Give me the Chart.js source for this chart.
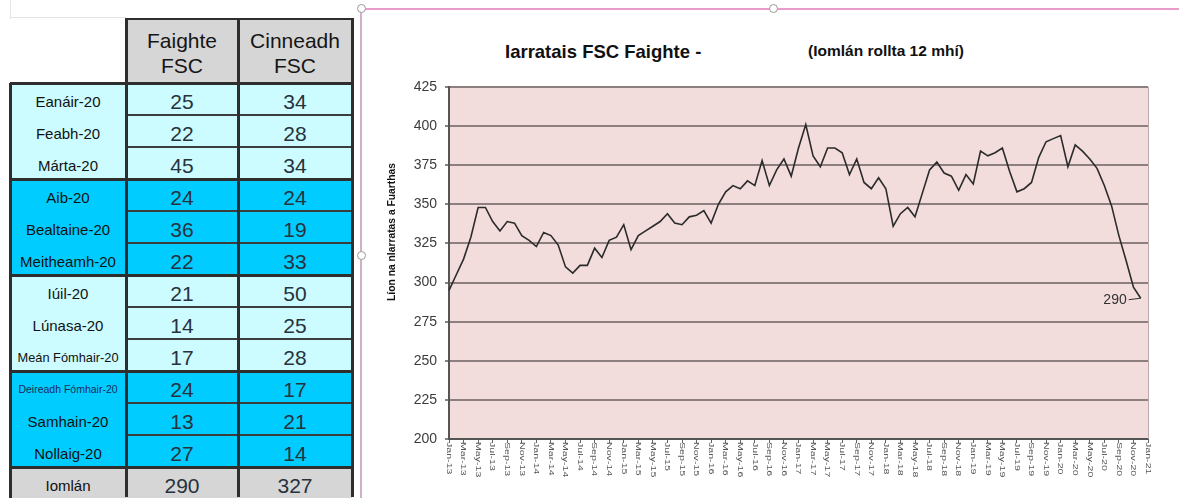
<!DOCTYPE html>
<html>
<head>
<meta charset="utf-8">
<script src="https://cdn.jsdelivr.net/npm/chart.js@4.4.1/dist/chart.umd.min.js"></script>
<style>
  body { margin: 0; width: 1179px; height: 498px; overflow: hidden; background: #fff; font-family: 'Liberation Sans', Arial, sans-serif; position: relative; }
  .abs { position: absolute; }
  .txt { position: absolute; display: flex; align-items: center; justify-content: center; white-space: nowrap; }
  #chartBox { position: absolute; left: 363px; top: 10px; width: 816px; height: 488px; }
  .handle { position: absolute; width: 7px; height: 7px; border-radius: 50%; background: #fff; border: 1px solid #9a9a9a; }
</style>
</head>
<body>
<div id="table"></div>

<!-- chart frame -->
<div class="abs" style="left:362px;top:8px;width:817px;height:2px;background:#e99cc9;"></div>
<div class="abs" style="left:360px;top:8px;width:2px;height:490px;background:#cfb0c6;"></div>
<div class="handle" style="left:357px;top:4px;"></div>
<div class="handle" style="left:769px;top:4px;"></div>
<div class="handle" style="left:357px;top:251px;"></div>

<div class="abs" style="left:505px;top:41px;font-weight:bold;font-size:18.5px;line-height:22px;color:#111;">Iarratais FSC Faighte -</div>
<div class="abs" style="left:808px;top:42px;font-weight:bold;font-size:15.5px;line-height:18px;color:#111;">(Iomlán rollta 12 mhí)</div>

<div id="chartBox"><canvas id="chart" width="816" height="488"></canvas></div>

<script>
// table data (2020)
const months = ['Eanáir-20', 'Feabh-20', 'Márta-20', 'Aib-20', 'Bealtaine-20', 'Meitheamh-20',
                'Iúil-20', 'Lúnasa-20', 'Meán Fómhair-20', 'Deireadh Fómhair-20', 'Samhain-20', 'Nollaig-20'];
const faighte = [25, 22, 45, 24, 36, 22, 21, 14, 17, 24, 13, 27];
const cinneadh = [34, 28, 34, 24, 19, 33, 50, 25, 28, 17, 21, 14];
const headers = ['Faighte<br>FSC', 'Cinneadh<br>FSC'];
const totalLabel = 'Iomlán';

// rolling 12 month totals, Jan-13 .. Dec-20
const r2013 = [295, 305, 315, 329, 348, 348, 339, 333, 339, 338, 330, 327];
const r2014 = [323, 332, 330, 324, 310, 306, 311, 311, 322, 316, 327, 329];
const r2015 = [337, 321, 330, 333, 336, 339, 344, 338, 337, 342, 343, 346];
const r2016 = [338, 350, 358, 362, 360, 365, 362, 378, 362, 372, 379, 368];
const r2017 = [386, 401, 381, 374, 386, 386, 383, 369, 379, 364, 360, 367];
const r2018 = [360, 336, 344, 348, 342, 357, 372, 377, 370, 368, 359, 369];
const r2019 = [363, 384, 381, 383, 386, 371, 358, 360, 364, 380, 390, 392];
const r2020 = [394, 374, 388, 384, 379, 373, 362, 349, 330, 314, 297, 290];
const monthAbbr = ['Jan', 'Feb', 'Mar', 'Apr', 'May', 'Jun', 'Jul', 'Aug', 'Sep', 'Oct', 'Nov', 'Dec'];
const years = ['13', '14', '15', '16', '17', '18', '19', '20'];
const lastLabel = 'Jan-21';
const yTitle = 'Líon na nIarratas a Fuarthas';

// ---- table ----
const tbl = document.getElementById('table');
function box(l, t, w, h, bg) {
  let d = document.createElement('div');
  d.className = 'abs';
  d.style.cssText = `left:${l}px;top:${t}px;width:${w}px;height:${h}px;background:${bg};`;
  tbl.appendChild(d);
}
function text(l, t, w, h, html, size, color) {
  let d = document.createElement('div');
  d.className = 'txt';
  d.style.cssText = `left:${l}px;top:${t}px;width:${w}px;height:${h}px;font-size:${size}px;color:${color};line-height:25px;text-align:center;`;
  d.innerHTML = html;
  tbl.appendChild(d);
}
const X0 = 10, X1 = 126, X2 = 238, X3 = 352, TOP = 83, RH = 32, HTOP = 19;
const numColor = '#27323d';

// faint sheet lines
box(10, 0, 1, 19, '#e4e4e4');
box(10, 17, 116, 1, '#e4e4e4');

// header
box(X1, HTOP, X3 - X1, TOP - HTOP, '#d6d6d6');
text(X1, HTOP + 2, X2 - X1, TOP - HTOP, headers[0], 21, '#151515');
text(X2, HTOP + 2, X3 - X2, TOP - HTOP, headers[1], 21, '#151515');

months.forEach((m, i) => {
  const g = Math.floor(i / 3);
  const bg = g % 2 ? '#00ccff' : '#ccfcff';
  const y = TOP + i * RH;
  box(X0, y, X3 - X0, RH, bg);
  let size = 15, col = '#111';
  if (m.length > 16) { size = 10.5; col = '#1b2a5c'; }
  else if (m.length > 12) size = 12.8;
  text(X0, y + 2, X1 - X0, RH, m, size, col);
  text(X1, y + 2, X2 - X1, RH, faighte[i], 21, numColor);
  text(X2, y + 2, X3 - X2, RH, cinneadh[i], 21, numColor);
  if (i % 3 !== 0) box(X1, y - 1, X3 - X1, 2, '#3c3c3c');
});
const yT = TOP + months.length * RH;
box(X0, yT, X3 - X0, RH, '#d6d6d6');
text(X0, yT + 2, X1 - X0, RH, totalLabel, 15, '#111');
text(X1, yT + 2, X2 - X1, RH, faighte.reduce((a, b) => a + b, 0), 21, numColor);
text(X2, yT + 2, X3 - X2, RH, cinneadh.reduce((a, b) => a + b, 0), 21, numColor);

// grid lines of the table
for (let g = 0; g <= 4; g++) box(X0, TOP + g * 3 * RH - 1, X3 - X0 + 1, 3, '#2e2e2e');
box(X1, HTOP - 1, X3 - X1 + 1, 2, '#2e2e2e');
box(X0 - 1, TOP, 3, 498 - TOP, '#2e2e2e');
[X1, X2, X3].forEach(x => box(x - 1, HTOP - 1, 3, 498 - HTOP, '#2e2e2e'));

// ---- chart ----
const labels = [];
years.forEach(y => monthAbbr.forEach(m => labels.push(m + '-' + y)));
labels.push(lastLabel);
const rolling = [].concat(r2013, r2014, r2015, r2016, r2017, r2018, r2019, r2020);

Chart.defaults.font.family = "'Liberation Sans', Arial, sans-serif";

const plotBg = {
  id: 'plotBg',
  beforeDraw(chart) {
    const {ctx, chartArea: a} = chart;
    ctx.save();
    ctx.fillStyle = '#f2dcdc';
    ctx.fillRect(a.left, a.top, a.right - a.left, a.bottom - a.top);
    ctx.restore();
  },
  afterDraw(chart) {
    const {ctx, chartArea: a} = chart;
    const xs = chart.scales.x;
    ctx.save();
    // right edge of plot
    ctx.strokeStyle = '#b9a9aa';
    ctx.lineWidth = 1;
    ctx.beginPath();
    ctx.moveTo(a.right + 0.5, a.top);
    ctx.lineTo(a.right + 0.5, a.bottom);
    ctx.stroke();
    // x labels, rotated clockwise
    ctx.fillStyle = '#555';
    ctx.font = "9px 'Liberation Sans', Arial, sans-serif";
    ctx.textAlign = 'left';
    ctx.textBaseline = 'middle';
    labels.forEach((lab, i) => {
      if (i % 2) return;
      const x = xs.getPixelForTick(i);
      ctx.save();
      ctx.translate(x, a.bottom + 3);
      ctx.rotate(Math.PI / 2);
      ctx.scale(1.18, 0.9);
      ctx.fillText(lab, 0, 0);
      ctx.restore();
    });
    // y title
    ctx.save();
    ctx.translate(a.left - 57, (a.top + a.bottom) / 2 - 31);
    ctx.rotate(-Math.PI / 2);
    ctx.font = "bold 10.3px 'Liberation Sans', Arial, sans-serif";
    ctx.fillStyle = '#111';
    ctx.textAlign = 'center';
    ctx.fillText(yTitle, 0, 0);
    ctx.restore();
    // last value note
    const meta = chart.getDatasetMeta(0);
    const pt = meta.data[meta.data.length - 1];
    ctx.strokeStyle = '#333';
    ctx.lineWidth = 1;
    ctx.beginPath();
    ctx.moveTo(pt.x - 12, pt.y + 1.5);
    ctx.lineTo(pt.x, pt.y);
    ctx.stroke();
    ctx.fillStyle = '#333';
    ctx.font = "14px 'Liberation Sans', Arial, sans-serif";
    ctx.textAlign = 'right';
    ctx.textBaseline = 'middle';
    ctx.fillText(String(rolling[rolling.length - 1]), pt.x - 14, pt.y + 2);
    ctx.restore();
  }
};

new Chart(document.getElementById('chart'), {
  type: 'line',
  data: {
    labels: labels,
    datasets: [{
      data: rolling,
      borderColor: '#2b2b2b',
      borderWidth: 1.6,
      pointRadius: 0,
      tension: 0,
      fill: false
    }]
  },
  options: {
    responsive: false,
    animation: false,
    layout: { padding: { top: 77, right: 31, left: 0, bottom: 0 } },
    plugins: { legend: { display: false }, tooltip: { enabled: false } },
    scales: {
      x: {
        offset: false,
        ticks: { display: false, autoSkip: false },
        grid: {
          drawOnChartArea: false,
          drawTicks: true,
          tickLength: 4,
          tickColor: c => c.index % 2 ? 'rgba(0,0,0,0)' : '#666'
        },
        border: { color: '#555', width: 2 },
        afterFit(s) { s.height = 59; }
      },
      y: {
        min: 200,
        max: 425,
        ticks: { stepSize: 25, color: '#3c3c3c', font: { size: 14 }, padding: 8 },
        grid: { color: '#8d7f80', lineWidth: 2, tickLength: 4, drawTicks: true },
        border: { color: '#555', width: 2 },
        afterFit(s) { s.width = 86; }
      }
    }
  },
  plugins: [plotBg]
});
</script>
</body>
</html>
